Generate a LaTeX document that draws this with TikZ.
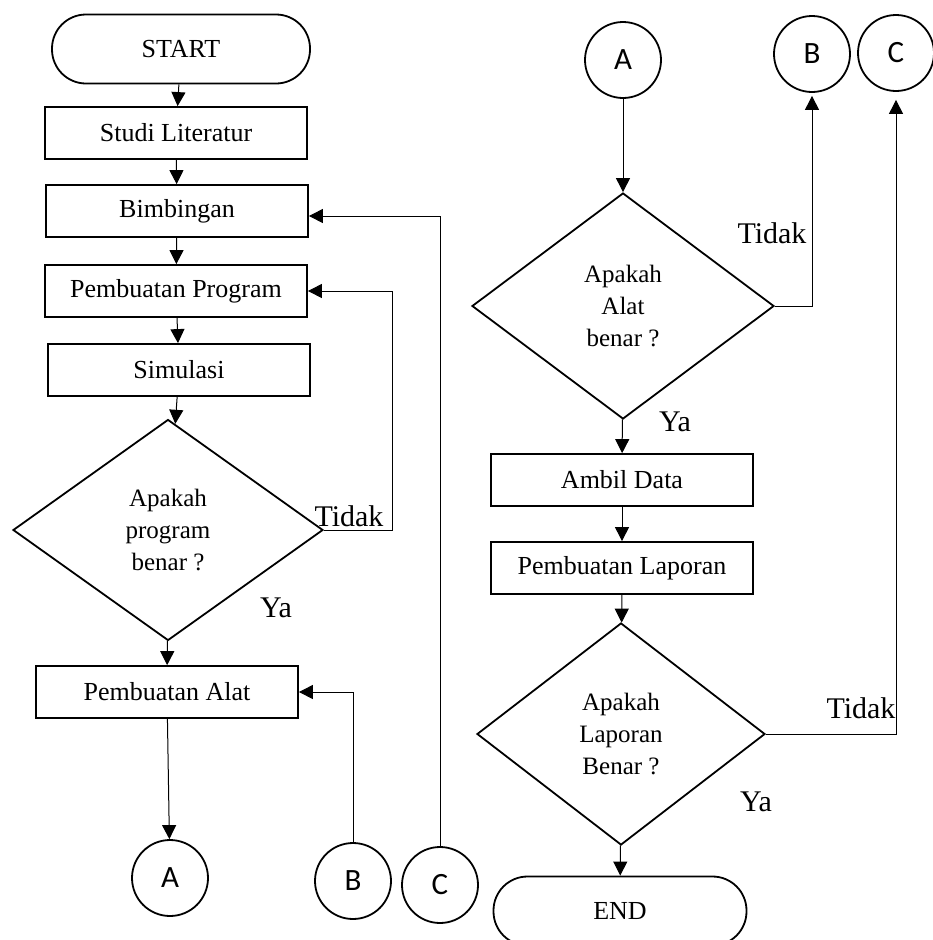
\documentclass[tikz,border=0pt]{standalone}
\usepackage{fontspec}
\setmainfont{Liberation Serif}
\newfontfamily\circfont{Carlito}
\usetikzlibrary{shapes.geometric,arrows.meta}
\begin{document}
\begin{tikzpicture}[x=1pt,y=-1pt,
  box/.style={draw,line width=1.8pt,minimum width=262pt,minimum height=52pt,inner sep=0pt,font=\fontsize{26}{32}\selectfont},
  term/.style={draw,line width=1.8pt,rounded corners=34pt,minimum width=258pt,minimum height=69pt,inner sep=0pt,font=\fontsize{26}{32}\selectfont},
  dec/.style={draw,diamond,line width=1.8pt,inner sep=0pt,align=center,font=\fontsize{25}{32}\selectfont},
  conn/.style={draw,circle,line width=1.8pt,minimum size=76pt,inner sep=0pt,font=\circfont\fontsize{31}{34}\selectfont},
  lbl/.style={font=\fontsize{30}{34}\selectfont,inner sep=0pt},
  arr/.style={line width=1pt,-{Triangle[width=14pt,length=14pt]}}]
\clip (0,0) rectangle (933,940);
% left column
\node[term] (start) at (181,49) {START};
\node[box] (studi) at (176,133) {Studi Literatur};
\node[box] (bimb) at (177,211) {Bimbingan};
\node[box] (prog) at (176,291) {Pembuatan Program};
\node[box] (sim) at (179,370) {Simulasi};
\node[dec,minimum width=310pt,minimum height=221pt] (d1) at (168,530) {Apakah\\program\\benar ?};
\node[lbl] (t1) at (349,516) {Tidak};
\node[lbl] (y1) at (276,608) {Ya};
\node[box] (alat) at (167,692) {Pembuatan Alat};
\node[conn] (a1) at (170,878) {A};
\node[conn] (b1) at (353,881) {B};
\node[conn] (c1) at (440,885) {C};
\coordinate (k1) at (392,530);
% right column
\node[conn] (a2) at (623,60) {A};
\node[conn] (b2) at (812,54) {B};
\node[conn] (c2) at (896,53) {C};
\node[dec,minimum width=302pt,minimum height=226pt] (d2) at (623,306) {Apakah\\Alat\\benar ?};
\node[lbl] (t2) at (772,233) {Tidak};
\node[lbl] (y2) at (675,422) {Ya};
\node[box] (ambil) at (622,480) {Ambil Data};
\node[box] (lap) at (622,568) {Pembuatan Laporan};
\node[dec,minimum width=288pt,minimum height=222pt] (d3) at (621,734) {Apakah\\Laporan\\Benar ?};
\node[lbl] (t3) at (861,708) {Tidak};
\node[lbl] (y3) at (756,802) {Ya};
\node[term,minimum width=253pt] (end) at (620,911) {END};
% connectors left
\draw[arr] (start) -- (studi);
\draw[arr] (studi) -- (bimb);
\draw[arr] (bimb) -- (prog);
\draw[arr] (prog) -- (sim);
\draw[arr] (sim) -- (d1);
\draw[arr] (d1) -- (alat);
\draw[arr] (alat) -- (a1);
\draw[arr] (d1.east) -- (k1) |- (prog.east);
\draw[arr] (b1.north) |- (alat.east);
\draw[arr] (c1.north) |- ([yshift=-5pt]bimb.east);
% connectors right
\draw[arr] (a2) -- (d2);
\draw[arr] (d2) -- (ambil);
\draw[arr] (ambil) -- (lap);
\draw[arr] (lap) -- (d3);
\draw[arr] (d3) -- (end);
\draw[arr] (d2.east) -| ([yshift=-3pt]b2.south);
\draw[arr] (d3.east) -| ([yshift=-8pt]c2.south);
\end{tikzpicture}
\end{document}
